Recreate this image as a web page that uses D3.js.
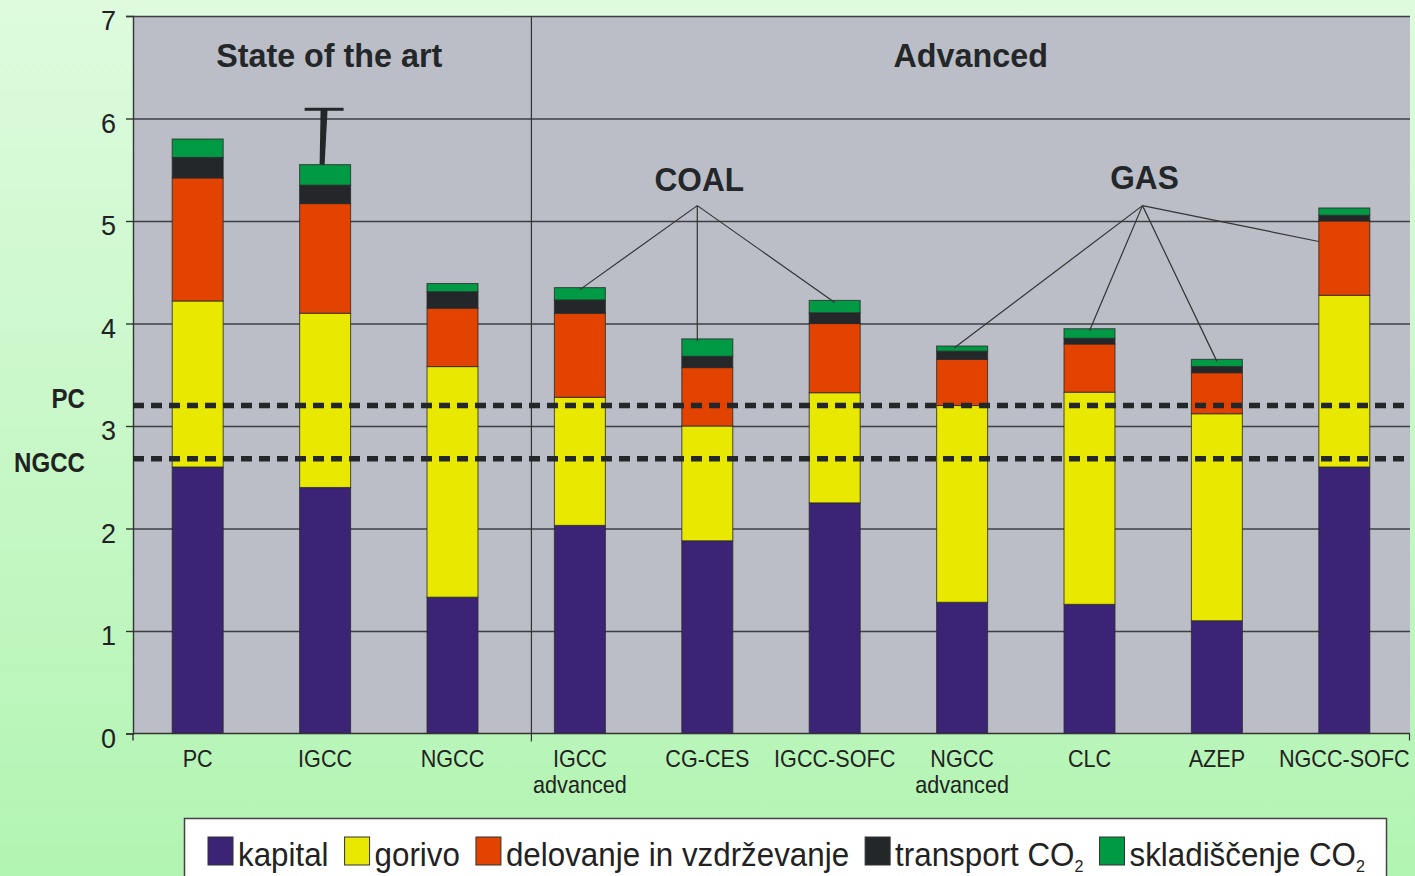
<!DOCTYPE html>
<html>
<head>
<meta charset="utf-8">
<script src="https://cdn.jsdelivr.net/npm/d3@7"></script>
<style>
  body { margin: 0; }
  svg { display: block; font-family: "Liberation Sans", Arial, sans-serif; }
</style>
</head>
<body>
<script>
// Cost of electricity by technology, split into components
const categories = ["PC", "IGCC", "NGCC", "IGCC\nadvanced", "CG-CES", "IGCC-SOFC",
                    "NGCC\nadvanced", "CLC", "AZEP", "NGCC-SOFC"];
const kapital         = [2.60, 2.40, 1.33, 2.03, 1.88, 2.25, 1.28, 1.26, 1.10, 2.60];
const gorivo          = [1.62, 1.70, 2.25, 1.25, 1.12, 1.075, 1.92, 2.07, 2.02, 1.675];
const delovanje       = [1.20, 1.07, 0.57, 0.82, 0.57, 0.675, 0.45, 0.47, 0.40, 0.725];
const transportCO2    = [0.20, 0.18, 0.16, 0.13, 0.11, 0.105, 0.08, 0.056, 0.06, 0.056];
const skladiscenjeCO2 = [0.18, 0.20, 0.08, 0.12, 0.17, 0.12, 0.05, 0.093, 0.07, 0.071];

const seriesLabels = ["kapital", "gorivo", "delovanje in vzdrževanje", "transport CO_2", "skladiščenje CO_2"];
const seriesColors = ["#3b2376", "#e8e800", "#e24300", "#23272a", "#009a45"];

const yTicks = [0, 1, 2, 3, 4, 5, 6, 7];

// reference levels (dashed lines)
const refLabels = ["PC", "NGCC"];
const refValues = [3.20, 2.68];

// uncertainty bar on IGCC
const errorCategory = "IGCC";
const errorTop = 6.09;

// section headings and technology groups
const sectionLabels = ["State of the art", "Advanced"];
const sectionSplit = "IGCC\nadvanced";
const groupLabels = ["COAL", "GAS"];
const coalMembers = ["IGCC\nadvanced", "CG-CES", "IGCC-SOFC"];
const gasMembers  = ["NGCC\nadvanced", "CLC", "AZEP", "NGCC-SOFC"];

// ---- table for the stack layout
const keys = ["kapital", "gorivo", "delovanje", "transport", "skladiscenje"];
const table = categories.map((c, i) => ({
  cat: c, kapital: kapital[i], gorivo: gorivo[i], delovanje: delovanje[i],
  transport: transportCO2[i], skladiscenje: skladiscenjeCO2[i]
}));
const stacked = d3.stack().keys(keys)(table);
const totals = table.map(d => keys.reduce((s, k) => s + d[k], 0));

// ---- layout
const W = 1415, H = 876;
const plot = { left: 133, right: 1410, top: 16, bottom: 733.5 };

const svg = d3.select("body").append("svg").attr("width", W).attr("height", H);

const grad = svg.append("defs").append("linearGradient")
  .attr("id", "bg").attr("x1", 0).attr("y1", 0).attr("x2", 0).attr("y2", 1);
grad.append("stop").attr("offset", "0%").attr("stop-color", "#defbde");
grad.append("stop").attr("offset", "100%").attr("stop-color", "#b2f4b2");
svg.append("rect").attr("width", W).attr("height", H).attr("fill", "url(#bg)");

const x = d3.scaleBand().domain(categories).range([134, 1408])
  .paddingInner(0.6).paddingOuter(0.3);
const y = d3.scaleLinear().domain([0, 7]).range([plot.bottom, plot.top]);
const cx = c => x(c) + x.bandwidth() / 2;

// horizontal squeeze of text around its anchor point
function squeeze(sel, sx) {
  sel.attr("transform", function () {
    const tx = +(this.getAttribute("x") || 0);
    return `translate(${tx * (1 - sx)},0) scale(${sx},1)`;
  });
}

// plot background
svg.append("rect")
  .attr("x", plot.left).attr("y", plot.top)
  .attr("width", plot.right - plot.left).attr("height", plot.bottom - plot.top)
  .attr("fill", "#bbbec6");

// gridlines
const grid = svg.append("g").attr("transform", `translate(${plot.left},0)`)
  .call(d3.axisLeft(y).tickValues(yTicks.filter(v => v > 0))
    .tickSize(-(plot.right - plot.left)).tickFormat(""));
grid.select(".domain").remove();
grid.selectAll(".tick line").attr("stroke", "#3d3f42").attr("stroke-width", 1.4);

// y axis
const yAxis = svg.append("g").attr("transform", `translate(${plot.left},0)`)
  .call(d3.axisLeft(y).tickValues(yTicks).tickFormat(d3.format("d"))
    .tickSize(7).tickPadding(10));
yAxis.select(".domain").attr("stroke", "#333").attr("stroke-width", 1.4);
yAxis.selectAll(".tick line").attr("stroke", "#333").attr("stroke-width", 1.4);
yAxis.selectAll(".tick text")
  .attr("font-size", 27).attr("fill", "#222").attr("dy", "0.5em")
  .attr("font-family", "Liberation Sans, Arial, sans-serif");

// section separator
const sepX = x(sectionSplit) - 23;
svg.append("line")
  .attr("x1", sepX).attr("x2", sepX).attr("y1", plot.top).attr("y2", plot.bottom + 8)
  .attr("stroke", "#333").attr("stroke-width", 1.2);

// stacked bars
const layers = svg.append("g").selectAll("g").data(stacked).join("g")
  .attr("fill", (d, i) => seriesColors[i]);
layers.selectAll("rect").data(d => d).join("rect")
  .attr("x", d => x(d.data.cat))
  .attr("width", x.bandwidth())
  .attr("y", d => y(d[1]))
  .attr("height", d => y(d[0]) - y(d[1]))
  .attr("stroke", "#2a2a2a").attr("stroke-opacity", 0.75).attr("stroke-width", 1.1);

// x axis
const xAxis = svg.append("g").attr("transform", `translate(0,${plot.bottom})`)
  .call(d3.axisBottom(x).tickSize(0).tickPadding(0));
xAxis.select(".domain").remove();
svg.append("line")
  .attr("x1", plot.left).attr("x2", plot.right).attr("y1", plot.bottom).attr("y2", plot.bottom)
  .attr("stroke", "#333").attr("stroke-width", 1.5);
svg.append("line")
  .attr("x1", plot.right - 0.5).attr("x2", plot.right - 0.5)
  .attr("y1", plot.bottom).attr("y2", plot.bottom + 7)
  .attr("stroke", "#333").attr("stroke-width", 1.2);
svg.append("line")
  .attr("x1", plot.left).attr("x2", plot.left)
  .attr("y1", plot.bottom).attr("y2", plot.bottom + 7)
  .attr("stroke", "#333").attr("stroke-width", 1.4);
xAxis.selectAll(".tick text").each(function (d) {
  const t = d3.select(this).text(null)
    .attr("font-size", 24).attr("fill", "#222").attr("y", 0).attr("dy", null)
    .attr("font-family", "Liberation Sans, Arial, sans-serif");
  d.split("\n").forEach((line, i) => {
    t.append("tspan").attr("x", 0).attr("y", 34 + i * 26).text(line);
  });
});
squeeze(xAxis.selectAll(".tick text"), 0.9);

// reference lines
const refLabelShift = [3, 13];
refValues.forEach((v, i) => {
  svg.append("line")
    .attr("x1", plot.left).attr("x2", plot.right).attr("y1", y(v)).attr("y2", y(v))
    .attr("stroke", "#23272a").attr("stroke-width", 5.5).attr("stroke-dasharray", "11 7");
  const t = svg.append("text")
    .attr("x", 85).attr("y", y(v) + refLabelShift[i])
    .attr("text-anchor", "end").attr("font-size", 28).attr("font-weight", "bold")
    .attr("fill", "#222").text(refLabels[i]);
  squeeze(t, 0.86);
});

// uncertainty bar
{
  const c = cx(errorCategory) - 0.5;
  const top = y(errorTop);
  const bot = y(totals[categories.indexOf(errorCategory)]);
  svg.append("rect").attr("x", c - 20).attr("y", top - 1.5).attr("width", 39).attr("height", 3)
    .attr("fill", "#23272a");
  svg.append("path")
    .attr("d", `M${c - 4},${top} L${c + 3},${top} L${c},${bot} L${c - 5},${bot} Z`)
    .attr("fill", "#23272a");
}

// section headings
const secMid = [(plot.left + sepX) / 2, (sepX + plot.right) / 2];
sectionLabels.forEach((s, i) => {
  const t = svg.append("text")
    .attr("x", secMid[i] - (i === 0 ? 3 : 0)).attr("y", 67)
    .attr("text-anchor", "middle").attr("font-size", 34).attr("font-weight", "bold")
    .attr("fill", "#23272a").text(s);
  squeeze(t, 0.95);
});

// group labels with leader lines
const groups = [
  { label: groupLabels[0], members: coalMembers,
    ax: cx("CG-CES") - 10, av: 5.15, lv: 5.29 },
  { label: groupLabels[1], members: gasMembers,
    ax: cx("CLC") + 53, av: 5.15, lv: 5.31 }
];
groups.forEach(g => {
  const t = svg.append("text")
    .attr("x", g.ax + 2).attr("y", y(g.lv))
    .attr("text-anchor", "middle").attr("font-size", 34).attr("font-weight", "bold")
    .attr("fill", "#23272a").text(g.label);
  squeeze(t, 0.93);
  g.members.forEach(m => {
    const i = categories.indexOf(m);
    let ex = cx(m), ey = y(totals[i]) + 2;
    if (m === "CG-CES") ex = g.ax;
    if (m === "NGCC\nadvanced") ex = cx(m) - 8;
    if (m === "NGCC-SOFC") { ex = x(m); ey = y(4.80); }
    svg.append("line")
      .attr("x1", g.ax).attr("y1", y(g.av)).attr("x2", ex).attr("y2", ey)
      .attr("stroke", "#333").attr("stroke-width", 1.2);
  });
});

// legend
const lg = svg.append("g");
lg.append("rect").attr("x", 184.5).attr("y", 818.5).attr("width", 1202).attr("height", 70)
  .attr("fill", "#ffffff").attr("stroke", "#444").attr("stroke-width", 1.5);
const legendSx = 0.95;
let lx = 208;
seriesLabels.forEach((lab, i) => {
  lg.append("rect").attr("x", lx).attr("y", 837).attr("width", 25).attr("height", 28)
    .attr("fill", seriesColors[i]).attr("stroke", "#333").attr("stroke-width", 1);
  const parts = lab.split("_");
  const t = lg.append("text").attr("x", lx + 30).attr("y", 866)
    .attr("font-size", 33).attr("fill", "#222");
  t.append("tspan").text(parts[0]);
  if (parts[1]) {
    t.append("tspan").attr("font-size", 17).attr("dy", 6).text(parts[1]);
  }
  squeeze(t, legendSx);
  lx += 30 + t.node().getComputedTextLength() * legendSx + 16;
});
</script>
</body>
</html>
